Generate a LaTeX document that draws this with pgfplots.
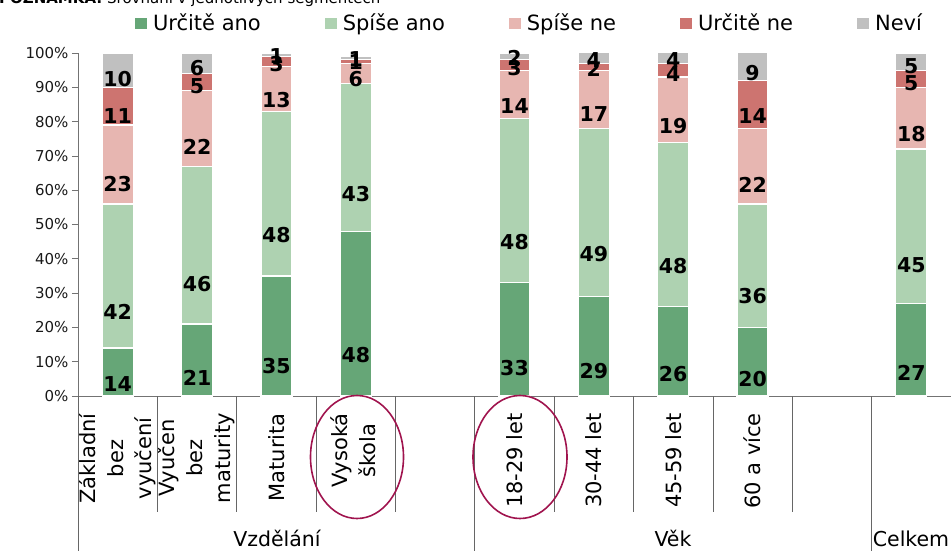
\documentclass[border=0pt]{standalone}
\usepackage{pgfplots}
\pgfplotsset{compat=1.18}
\usepackage{pgfplotstable}
\usepackage{fontspec}
\setmainfont{DejaVu Sans}
\definecolor{ua}{HTML}{66A677}
\definecolor{sa}{HTML}{AED2B1}
\definecolor{sn}{HTML}{E7B6B1}
\definecolor{un}{HTML}{CD7470}
\definecolor{nv}{HTML}{C0C0C0}
\definecolor{oval}{HTML}{A0144E}

\pgfplotstableread{
x a b c d e
0 14 42 23 11 10
1 21 46 22 5 6
2 35 48 13 3 1
3 48 43 6 1 1
5 33 48 14 3 2
6 29 49 17 2 4
7 26 48 19 4 4
8 20 36 22 14 9
10 27 45 18 5 5
}\data

\newcommand{\cl}[1]{\begin{tabular}{@{}c@{}}#1\end{tabular}}

\pgfplotsset{
  base/.style={
    at={(78pt,154pt)}, anchor=south west,
    scale only axis, width=873pt, height=343pt,
    xmin=-0.5, xmax=10.5, ymin=0, ymax=100,
    ybar stacked, bar width=31pt,
  },
  lbl/.style={
    nodes near coords={\textbf{\pgfmathprintnumber[assume math mode=true]{\segval}}},
    visualization depends on={\thisrow{#1}\as\segval},
    every node near coord/.style={anchor=center, yshift={-0.8575pt*\segval},
      font=\bfseries\fontsize{20.5}{24}\selectfont, text=black, inner sep=0pt},
  },
}

\begin{document}
\begin{tikzpicture}
\useasboundingbox (0,0) rectangle (951pt,550pt);
\clip (0,0) rectangle (951pt,550pt);
\node[anchor=base west, font=\fontsize{15}{18}\selectfont, inner sep=0pt] at (-1pt,546pt)
  {\textbf{POZNÁMKA:} Srovnání v jednotlivých segmentech};
\begin{axis}[base,
  axis x line*=bottom, axis y line*=left,
  axis line style={black!55, line width=0.8pt},
  ytick={0,10,...,100},
  yticklabel={\pgfmathprintnumber{\tick}\%},
  /pgf/number format/assume math mode=true,
  y tick label style={font=\fontsize{15}{18}\selectfont, text=black!90},
  ytick style={black!55, line width=0.8pt},
  tick align=outside, major tick length=6pt,
  xtick={0,...,10},
  x tick style={draw=none},
  xticklabels={{\cl{Základní\\bez\\vyučení}},{\cl{Vyučen\\bez\\maturity}},Maturita,{\cl{Vysoká\\škola}},,{18-29 let},{30-44 let},{45-59 let},{60 a více},,},
  xticklabel style={rotate=90, anchor=east, inner sep=0pt,
    font=\fontsize{21}{28}\selectfont, xshift=-11pt},
  legend columns=5,
  legend style={at={(axis description cs:0.0651,1.087)}, anchor=west, draw=none, fill=none,
    font=\fontsize{21}{24}\selectfont, inner sep=0pt,
    /tikz/every odd column/.append style={column sep=4pt},
    /tikz/every even column/.append style={column sep=62pt}},
  legend image code/.code={\fill[#1,draw=none] (0pt,-5.5pt) rectangle (12pt,5.5pt);},
  every axis plot/.append style={draw=white, line width=1.2pt},
]
\addplot[fill=ua] table[x=x,y=a]{\data};
\addplot[fill=sa] table[x=x,y=b]{\data};
\addplot[fill=sn] table[x=x,y=c]{\data};
\addplot[fill=un] table[x=x,y=d]{\data};
\addplot[fill=nv] table[x=x,y=e]{\data};
\legend{Určitě ano,Spíše ano,Spíše ne,Určitě ne,Neví}
\end{axis}
% separators below the axis
\foreach \s in {157.36,236.73,316.09,395.45,554.18,633.55,712.91,792.27}{
  \draw[black!60, line width=0.8pt] (\s pt,154pt) -- ++(0pt,-116pt);
}
\foreach \s in {78,474.82,871.64,951}{
  \draw[black!60, line width=0.8pt] (\s pt,154pt) -- ++(0pt,-160pt);
}
\begin{axis}[base, hide axis, clip=false]
\addplot[draw=none, fill=none, lbl=a] table[x=x,y=a]{\data};
\addplot[draw=none, fill=none, lbl=b] table[x=x,y=b]{\data};
\addplot[draw=none, fill=none, lbl=c] table[x=x,y=c]{\data};
\addplot[draw=none, fill=none, lbl=d] table[x=x,y=d]{\data};
\addplot[draw=none, fill=none, lbl=e] table[x=x,y=e]{\data};
\end{axis}
\node[anchor=base, font=\fontsize{20.5}{24}\selectfont] at (277pt,4pt) {Vzdělání};
\node[anchor=base, font=\fontsize{20.5}{24}\selectfont] at (673pt,4pt) {Věk};
\node[anchor=base, font=\fontsize{20.5}{24}\selectfont] at (911pt,4pt) {Celkem};
\draw[oval, line width=1.6pt] (357pt,93pt) ellipse [x radius=46.5pt, y radius=61.5pt];
\draw[oval, line width=1.6pt] (520pt,93pt) ellipse [x radius=47pt, y radius=61.5pt];
\end{tikzpicture}
\end{document}
